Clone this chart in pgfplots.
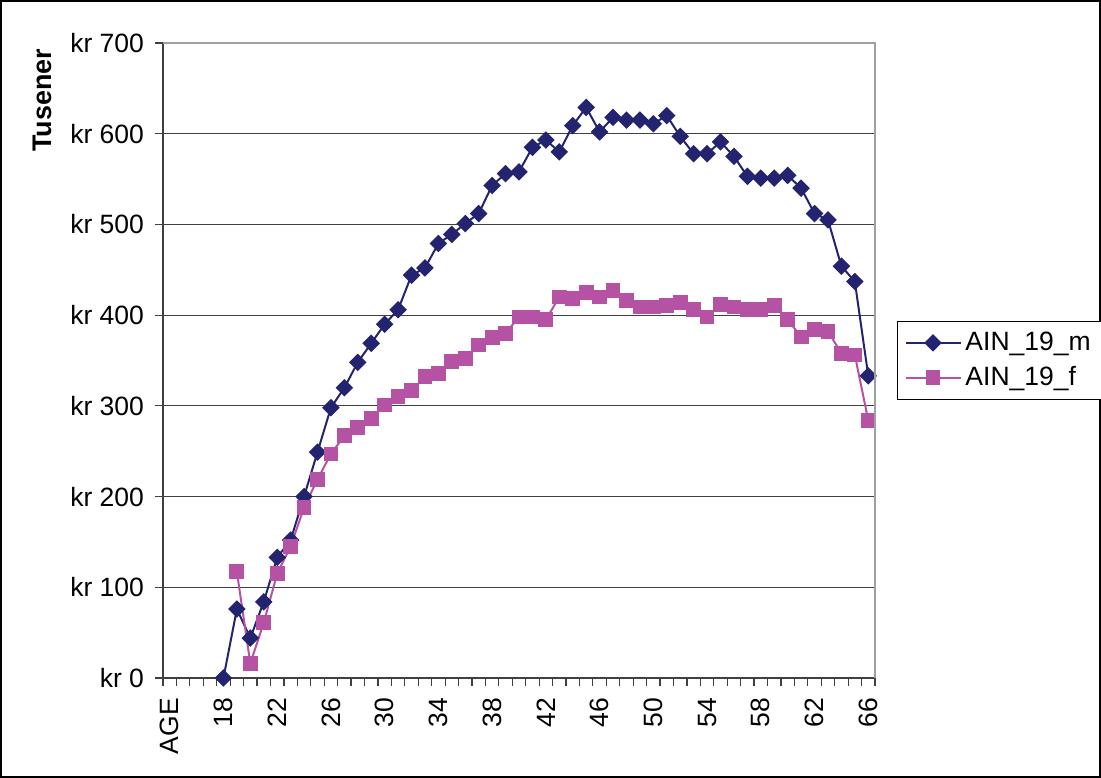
\documentclass[border=0pt]{standalone}
\usepackage{pgfplots}
\usepackage{pgfplotstable}
\pgfplotsset{compat=1.18}
\usepackage{fontspec}
\setmainfont{Liberation Sans}
\definecolor{mcol}{HTML}{232370}
\definecolor{fcol}{HTML}{B552A3}
\definecolor{gridc}{HTML}{404040}
\definecolor{bordc}{HTML}{A0A0A0}

\pgfplotstableread{
age val
18 0
19 76
20 44
21 84
22 133
23 152
24 200
25 249
26 298
27 320
28 348
29 369
30 390
31 406
32 444
33 452
34 479
35 489
36 501
37 512
38 543
39 556
40 558
41 585
42 593
43 580
44 609
45 629
46 602
47 618
48 615
49 615
50 611
51 620
52 597
53 578
54 578
55 591
56 575
57 553
58 551
59 551
60 554
61 540
62 512
63 505
64 454
65 437
66 333
}\maletable

\pgfplotstableread{
age val
19 117
20 16
21 61
22 115
23 145
24 188
25 219
26 247
27 267
28 276
29 286
30 301
31 310
32 317
33 332
34 336
35 349
36 352
37 367
38 375
39 380
40 398
41 398
42 395
43 420
44 418
45 425
46 420
47 427
48 416
49 409
50 409
51 411
52 414
53 406
54 398
55 412
56 409
57 406
58 406
59 411
60 395
61 376
62 384
63 382
64 358
65 356
66 284
}\femaletable

\begin{document}
\begin{tikzpicture}
\useasboundingbox (0,0) rectangle (550.5bp,389bp);
\draw[line width=1bp, black] (0.6bp,0.6bp) rectangle (549.9bp,388.4bp);
\begin{axis}[
  at={(81.5bp,50bp)}, anchor=south west,
  scale only axis,
  width=356bp, height=317.5bp,
  xmin=-0.5, xmax=52.5,
  ymin=0, ymax=700,
  font=\fontsize{13.3}{15.9}\selectfont,
  ytick={0,100,...,700},
  yticklabels={kr 0,kr 100,kr 200,kr 300,kr 400,kr 500,kr 600,kr 700},
  xtick={0,4,...,52},
  xticklabels={AGE,18,22,26,30,34,38,42,46,50,54,58,62,66},
  minor xtick={-0.5,0.5,...,52.5},
  tick align=outside,
  major tick length=4bp,
  minor tick length=4bp,
  major x tick style={draw=none},
  every tick/.style={gridc, line width=0.6bp},
  minor x tick style={gridc, line width=0.6bp},
  xticklabel style={rotate=90, anchor=east},
  xticklabel shift=2.5bp,
  yticklabel shift=2bp,
  ymajorgrids,
  major grid style={gridc, line width=0.6bp},
  axis x line*=bottom,
  axis y line*=left,
  x axis line style={-, gridc, line width=0.8bp},
  y axis line style={-, gridc, line width=0.8bp},
  after end axis/.code={\draw[bordc, line width=1bp] (rel axis cs:0,1) -| (rel axis cs:1,0);},
  ylabel={\bfseries Tusener},
  every axis y label/.style={at={(axis description cs:0,0.91)}, xshift=-60.5bp, rotate=90, anchor=center, font=\fontsize{13.5}{16}\selectfont},
  legend style={at={(axis description cs:1,0.5)}, anchor=west, xshift=11bp,
    draw=black, line width=0.5bp, inner sep=3.5bp, row sep=2.5bp,
    font=\fontsize{13.3}{15.9}\selectfont},
  legend cell align=left,
  legend image code/.code={\draw[#1, mark repeat=2, mark phase=2] plot coordinates {(0bp,0bp) (13.75bp,0bp) (27.5bp,0bp)};},
  clip=false,
]
\addplot[mcol, line width=1bp, mark=square*, mark size=2.6bp, mark options={rotate=45, fill=mcol, draw=mcol}]
  table[x expr=\thisrow{age}-14, y=val] {\maletable};
\addlegendentry{AIN\_19\_m}
\addplot[fcol, line width=1bp, mark=square*, mark size=3.2bp, mark options={fill=fcol, draw=fcol}]
  table[x expr=\thisrow{age}-14, y=val] {\femaletable};
\addlegendentry{AIN\_19\_f}
\end{axis}
\end{tikzpicture}
\end{document}
